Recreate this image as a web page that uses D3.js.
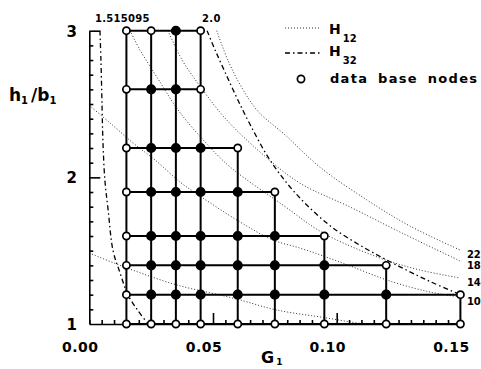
<!DOCTYPE html>
<html>
<head>
<meta charset="utf-8">
<script src="https://cdn.jsdelivr.net/npm/d3@7"></script>
<style>
  body { margin: 0; background: #fff; }
  svg text { font-family: "DejaVu Sans", sans-serif; font-weight: bold; fill: #000; }
</style>
</head>
<body>
<div id="chart"></div>
<script>
// Data

// grid of nodes: G values of the columns, h/b values of the rows
const gNodes = [0.015, 0.025, 0.035, 0.045, 0.060, 0.075, 0.095, 0.120, 0.150];
const hRows = [3.0, 2.6, 2.2, 1.9, 1.6, 1.4, 1.2, 1.0];
// o = data base node (open circle), x = other node (filled)
const rowMarks = ["ooxo", "oxxo", "oxxxo", "oxxxxo", "oxxxxxo", "oxxxxxxo", "oxxxxxxxo", "ooooooooo"];

// H32 curves (dash-dot), points are [G, h/b]
const h32Low = [[0.0043, 3.0], [0.0047, 2.8], [0.0051, 2.53], [0.0055, 2.25], [0.0063, 1.98],
  [0.0076, 1.78], [0.0096, 1.5], [0.0124, 1.35], [0.0156, 1.2], [0.0193, 1.1], [0.0233, 1.01]];
const h32High = [[0.0476, 3.0], [0.0508, 2.87], [0.0548, 2.72], [0.0597, 2.54], [0.065, 2.36],
  [0.0722, 2.14], [0.0799, 1.96], [0.088, 1.81], [0.0985, 1.655], [0.1122, 1.51],
  [0.1256, 1.39], [0.1377, 1.29], [0.15, 1.2]];
const h32Names = ["1.515095", "2.0"];

// H12 curves (dotted)
const h12_22 = [[0.0515, 3.0], [0.056, 2.8], [0.0617, 2.61], [0.0682, 2.45], [0.0791, 2.29],
  [0.0932, 2.07], [0.1122, 1.846], [0.1296, 1.668], [0.1498, 1.505]];
const h12_18 = [[0.0318, 3.0], [0.0375, 2.8], [0.0447, 2.623], [0.0548, 2.405], [0.069, 2.173],
  [0.0851, 1.961], [0.1054, 1.798], [0.1256, 1.627], [0.1498, 1.43]];
const h12_14 = [[0.0165, 3.0], [0.0205, 2.868], [0.0286, 2.65], [0.0359, 2.459], [0.0468, 2.241],
  [0.0569, 2.071], [0.0783, 1.811], [0.0945, 1.621], [0.1175, 1.45], [0.1337, 1.368], [0.1498, 1.314]];
const h12_10 = [[0.0, 2.49], [0.0084, 2.371], [0.0177, 2.234], [0.0266, 2.118], [0.0367, 1.968],
  [0.0447, 1.873], [0.0609, 1.696], [0.0742, 1.573], [0.0851, 1.518], [0.0945, 1.464],
  [0.1054, 1.396], [0.1215, 1.293], [0.1377, 1.218], [0.1498, 1.184]];
const h12_low = [[0.0, 1.484], [0.0152, 1.382], [0.0354, 1.266], [0.0528, 1.198], [0.0609, 1.164],
  [0.0759, 1.095], [0.0961, 1.041], [0.1054, 1.014], [0.1114, 1.0]];
const h12Curves = [h12_22, h12_18, h12_14, h12_10, h12_low];
const h12Names = ["22", "18", "14", "10", ""];

// axes
const xTickValues = [0, 0.05, 0.10, 0.15];
const xTickLabels = ["0.00", "0.05", "0.10", "0.15"];
const yTickValues = [1, 2, 3];
const yTickLabels = ["1", "2", "3"];

// Chart setup
const W = 481, H = 369;
const margin = { top: 30.7, left: 89.3, right: 20.6, bottom: 45 };

const svg = d3.select("#chart").append("svg")
  .attr("width", W)
  .attr("height", H);

const x = d3.scaleLinear().domain([0, 0.15]).range([margin.left, W - margin.right]);
const y = d3.scaleLinear().domain([1, 3]).range([H - margin.bottom, margin.top]);

const line = d3.line()
  .x(d => x(d[0]))
  .y(d => y(d[1]))
  .curve(d3.curveCatmullRom.alpha(0.5));

// H12 curves
svg.append("g").selectAll("path")
  .data(h12Curves)
  .enter().append("path")
  .attr("d", line)
  .attr("fill", "none")
  .attr("stroke", "#333")
  .attr("stroke-width", 1)
  .attr("stroke-dasharray", "1,2");

// H32 curves
svg.append("g").selectAll("path")
  .data([h32Low, h32High])
  .enter().append("path")
  .attr("d", line)
  .attr("fill", "none")
  .attr("stroke", "#000")
  .attr("stroke-width", 1.3)
  .attr("stroke-dasharray", "5,3,1.5,3");

// curve labels
svg.append("g").selectAll("text")
  .data(h12Curves.filter((c, i) => h12Names[i] !== ""))
  .enter().append("text")
  .attr("x", d => x(d[d.length - 1][0]) + 7)
  .attr("y", d => y(d[d.length - 1][1]) + 8)
  .style("font-size", "10px")
  .text((d, i) => h12Names[i]);

svg.append("g").selectAll("text")
  .data([h32Low, h32High])
  .enter().append("text")
  .attr("x", d => x(d[0][0]) - 5)
  .attr("y", d => y(d[0][1]) - 9)
  .style("font-size", "10px")
  .style("letter-spacing", "0.3px")
  .text((d, i) => h32Names[i]);

// axes
const xAxis = svg.append("g").attr("transform", `translate(0,${y(1)})`);
xAxis.call(d3.axisBottom(x)
  .tickValues(d3.range(0, 0.1501, 0.005))
  .tickSize(-4).tickSizeOuter(0).tickFormat(""));
xAxis.selectAll(".tick line").filter(d => Math.abs(d - 0.05) < 1e-6 || Math.abs(d - 0.10) < 1e-6)
  .attr("y2", -11);
xAxis.selectAll("path, line").attr("stroke-width", 1.6);

const yAxis = svg.append("g").attr("transform", `translate(${x(0)},0)`);
yAxis.call(d3.axisLeft(y)
  .tickValues(d3.range(1.1, 3.01, 0.1))
  .tickSize(-4).tickSizeOuter(0).tickFormat(""));
yAxis.selectAll(".tick line").filter(d => Math.abs(d - 2) < 1e-6 || Math.abs(d - 3) < 1e-6)
  .attr("x2", 11);
yAxis.selectAll("path, line").attr("stroke-width", 1.6);

svg.append("g").selectAll("text")
  .data(xTickValues)
  .enter().append("text")
  .attr("x", d => x(d) - 9)
  .attr("y", y(1) + 28)
  .attr("text-anchor", "middle")
  .style("font-size", "14px")
  .style("letter-spacing", "0.5px")
  .text((d, i) => xTickLabels[i]);

svg.append("g").selectAll("text")
  .data(yTickValues)
  .enter().append("text")
  .attr("x", 77)
  .attr("y", d => y(d) + 6)
  .attr("text-anchor", "end")
  .style("font-size", "15px")
  .text((d, i) => yTickLabels[i]);

// axis titles
const yTitle = svg.append("text").attr("x", 9).attr("y", 101).style("font-size", "17px");
yTitle.append("tspan").text("h");
yTitle.append("tspan").attr("dy", 3).style("font-size", "10px").text("1");
yTitle.append("tspan").attr("dy", -3).attr("dx", 3).text("/b");
yTitle.append("tspan").attr("dy", 3).style("font-size", "10px").text("1");

const xTitle = svg.append("text").attr("x", 261).attr("y", 363).style("font-size", "16px");
xTitle.append("tspan").text("G");
xTitle.append("tspan").attr("dy", 2).attr("dx", 2).style("font-size", "9px").text("1");

// grid lines
const grid = svg.append("g");
hRows.forEach((h, r) => {
  const n = rowMarks[r].length;
  grid.append("line")
    .attr("x1", x(gNodes[0])).attr("x2", x(gNodes[n - 1]))
    .attr("y1", y(h)).attr("y2", y(h));
});
gNodes.forEach((g, c) => {
  const top = d3.max(hRows.filter((h, r) => rowMarks[r].length > c));
  grid.append("line")
    .attr("x1", x(g)).attr("x2", x(g))
    .attr("y1", y(1)).attr("y2", y(top));
});
grid.selectAll("line").attr("stroke", "#000").attr("stroke-width", 2);

// nodes
const nodes = [];
hRows.forEach((h, r) => {
  rowMarks[r].split("").forEach((m, c) => nodes.push({ g: gNodes[c], h: h, open: m === "o" }));
});
svg.append("g").selectAll("circle")
  .data(nodes)
  .enter().append("circle")
  .attr("cx", d => x(d.g))
  .attr("cy", d => y(d.h))
  .attr("r", d => d.open ? 3.6 : 4.2)
  .attr("fill", d => d.open ? "#fff" : "#000")
  .attr("stroke", "#000")
  .attr("stroke-width", 1.7);

// legend
const legend = svg.append("g");
legend.append("line").attr("x1", 285).attr("x2", 320).attr("y1", 28).attr("y2", 28)
  .attr("stroke", "#333").attr("stroke-width", 1).attr("stroke-dasharray", "1,2");
legend.append("line").attr("x1", 285).attr("x2", 320).attr("y1", 53).attr("y2", 53)
  .attr("stroke", "#000").attr("stroke-width", 1.3).attr("stroke-dasharray", "5,3,1.5,3");
legend.append("circle").attr("cx", 301).attr("cy", 79).attr("r", 3.6)
  .attr("fill", "#fff").attr("stroke", "#000").attr("stroke-width", 1.7);

const l1 = legend.append("text").attr("x", 329).attr("y", 34).style("font-size", "14px");
l1.append("tspan").text("H");
l1.append("tspan").attr("dy", 8).attr("dx", 2).style("font-size", "10px").text("12");
const l2 = legend.append("text").attr("x", 329).attr("y", 56).style("font-size", "14px");
l2.append("tspan").text("H");
l2.append("tspan").attr("dy", 8).attr("dx", 2).style("font-size", "10px").text("32");
legend.append("text").attr("x", 330).attr("y", 83)
  .style("font-size", "13px")
  .style("letter-spacing", "1.3px")
  .style("word-spacing", "4px")
  .text("data base nodes");
</script>
</body>
</html>
